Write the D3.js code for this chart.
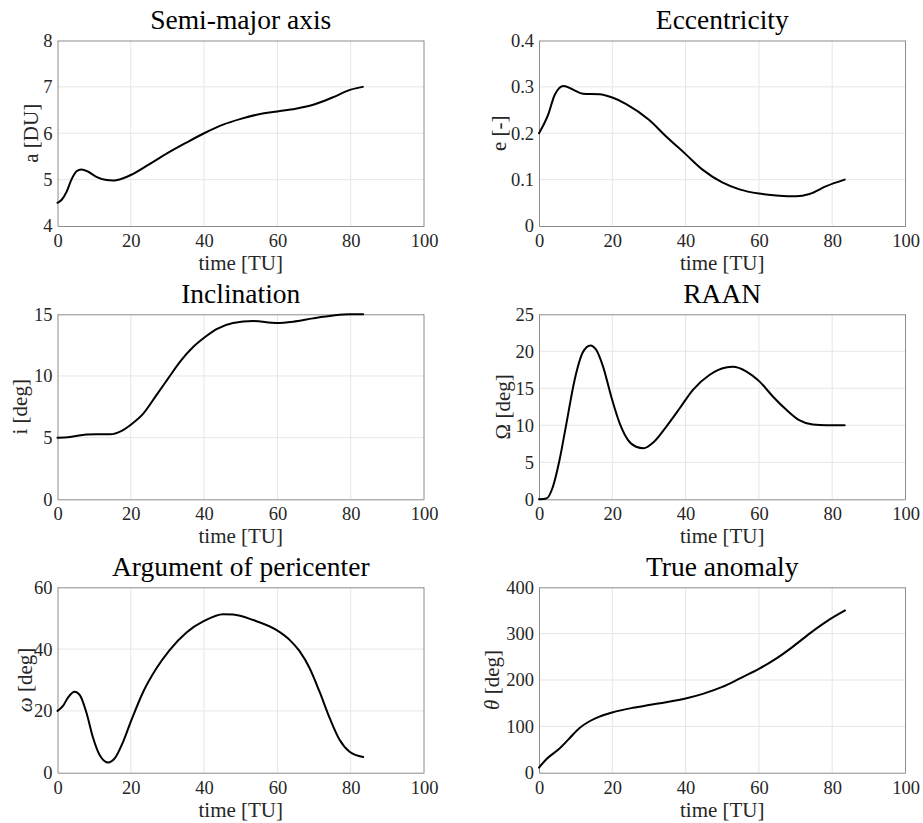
<!DOCTYPE html>
<html>
<head>
<meta charset="utf-8">
<script src="https://cdn.jsdelivr.net/npm/d3@7"></script>
<style>
  html, body { margin: 0; padding: 0; background: #fff; }
  svg { display: block; }
</style>
</head>
<body>
<svg id="chart" width="923" height="823"></svg>
<script>
// ---------------- data ----------------
const xTicks = [0, 20, 40, 60, 80, 100];

const tA = [0, 1.1, 2.5, 3.8, 5.2, 6.5, 8.4, 10.6, 13.4, 15.2, 17.9, 20, 25, 30, 35, 40, 45, 50, 55, 60, 65, 70, 75, 80, 83.3];
const aVals = [4.5, 4.56, 4.74, 5.0, 5.18, 5.22, 5.17, 5.06, 4.99, 4.98, 5.03, 5.10, 5.33, 5.57, 5.79, 6.0, 6.18, 6.31, 6.41, 6.47, 6.53, 6.62, 6.77, 6.94, 7.0];
const aTicks = [4, 5, 6, 7, 8];

const tE = [0, 2.5, 4.3, 6.7, 9.3, 12, 16.5, 20, 23.8, 30, 34.7, 40, 44.7, 50, 54.7, 60, 64.7, 70.2, 73.8, 78.4, 83.4];
const eVals = [0.2, 0.240, 0.283, 0.302, 0.294, 0.285, 0.284, 0.277, 0.263, 0.229, 0.193, 0.155, 0.121, 0.094, 0.079, 0.070, 0.066, 0.064, 0.069, 0.086, 0.1];
const eTicks = [0, 0.1, 0.2, 0.3, 0.4];

const tI = [0, 3.4, 7.9, 10.6, 14.3, 17.5, 20, 23.4, 27, 30.2, 33.4, 37, 40, 43.4, 47.9, 53.4, 59.7, 64.3, 69.7, 75.2, 79.7, 83.4];
const iVals = [5.0, 5.06, 5.26, 5.28, 5.27, 5.55, 6.05, 6.95, 8.45, 9.8, 11.15, 12.35, 13.1, 13.8, 14.3, 14.45, 14.3, 14.4, 14.67, 14.9, 15.0, 15.0];
const iTicks = [0, 5, 10, 15];

const tO = [0, 2, 3.8, 5.6, 7.5, 9.7, 12, 14, 15.6, 17.5, 19.7, 22, 24.3, 26.5, 28.6, 31, 34.7, 38.4, 42, 46.5, 51, 52.9, 56.5, 60.2, 63.8, 67.5, 71, 74.7, 78.4, 83.4];
const oVals = [0, 0.1, 1.7, 5.3, 10.3, 16.1, 19.9, 20.8, 20.2, 17.9, 13.9, 10.3, 8.0, 7.1, 6.9, 7.6, 9.8, 12.3, 14.8, 16.8, 17.8, 17.9, 17.3, 15.9, 13.9, 12.1, 10.7, 10.1, 10.0, 10.0];
const oTicks = [0, 5, 10, 15, 20, 25];

const tW = [0, 1.5, 2.9, 4.7, 6.1, 7.9, 9.7, 11.5, 13.8, 15.6, 17.9, 20, 23.4, 27, 30.6, 35.2, 40, 45.2, 47.9, 53.4, 59.7, 63.4, 66, 68.8, 71.5, 74.3, 77, 79.7, 83.4];
const wVals = [20, 21.6, 24.4, 26.2, 25.1, 19.4, 11.3, 5.7, 3.3, 4.6, 10.0, 16.5, 26.2, 33.8, 39.7, 45.4, 49.1, 51.3, 51.2, 49.4, 46.2, 42.9, 39.4, 33.8, 26.2, 17.6, 10.6, 6.8, 5.1];
const wTicks = [0, 20, 40, 60];

const tT = [0, 2, 5.6, 8.4, 11, 13.8, 16.5, 20, 25.6, 30, 34.7, 40, 44.7, 50, 54.7, 60, 64.7, 69.3, 73.8, 78.4, 83.5];
const thVals = [11, 29, 52, 75, 96, 111, 121, 130, 140, 146, 152, 160, 170, 185, 203, 224, 246, 272, 300, 326, 350];
const thTicks = [0, 100, 200, 300, 400];

const titles = ["Semi-major axis", "Eccentricity", "Inclination", "RAAN", "Argument of pericenter", "True anomaly"];
const yLabels = ["a [DU]", "e [-]", "i [deg]", "\u03A9 [deg]", "\u03C9 [deg]", "\u03B8 [deg]"];
const xLabel = "time [TU]";

// ---------------- layout ----------------
const FONT = "'Liberation Serif', 'DejaVu Serif', serif";
const panels = [
  { t: tA, v: aVals, ticks: aTicks, x0: 57.5, y0: 40.5, y1: 226, lab: 31, fmt: d => d },
  { t: tE, v: eVals, ticks: eTicks, x0: 539, y0: 40.5, y1: 226, lab: 499, fmt: d => d === 0 ? "0" : d.toFixed(1) },
  { t: tI, v: iVals, ticks: iTicks, x0: 57.5, y0: 314.3, y1: 499.3, lab: 20, fmt: d => d },
  { t: tO, v: oVals, ticks: oTicks, x0: 539, y0: 314.3, y1: 499.3, lab: 503, fmt: d => d },
  { t: tW, v: wVals, ticks: wTicks, x0: 57.5, y0: 587.3, y1: 772.7, lab: 25, fmt: d => d, italic: true },
  { t: tT, v: thVals, ticks: thTicks, x0: 539, y0: 587.3, y1: 772.7, lab: 492, fmt: d => d, italic: true }
];
const plotW = 366.5;

const svg = d3.select("#chart");
const textColor = "#262626";

panels.forEach((p, k) => {
  const x = d3.scaleLinear().domain([0, 100]).range([p.x0, p.x0 + plotW]);
  const y = d3.scaleLinear().domain([p.ticks[0], p.ticks[p.ticks.length - 1]]).range([p.y1, p.y0]);
  const g = svg.append("g");

  // grid
  g.append("g").selectAll("line").data(xTicks.slice(1, -1)).join("line")
    .attr("x1", d => x(d)).attr("x2", d => x(d))
    .attr("y1", p.y0).attr("y2", p.y1)
    .attr("stroke", "#e6e6e6").attr("stroke-width", 1);
  g.append("g").selectAll("line").data(p.ticks.slice(1, -1)).join("line")
    .attr("x1", p.x0).attr("x2", p.x0 + plotW)
    .attr("y1", d => y(d)).attr("y2", d => y(d))
    .attr("stroke", "#e6e6e6").attr("stroke-width", 1);

  // axes (box)
  const xAxis = d3.axisBottom(x).tickValues(xTicks).tickSize(0).tickPadding(8);
  const gx = g.append("g").attr("transform", `translate(0,${p.y1})`).call(xAxis);
  gx.attr("font-family", null).attr("font-size", null);
  gx.select(".domain").attr("stroke", "#8c8c8c");
  gx.selectAll("text").style("font-size", "18.5px").style("fill", textColor)
    .style("font-family", FONT);

  const yAxis = d3.axisLeft(y).tickValues(p.ticks).tickSize(0).tickPadding(5).tickFormat(p.fmt);
  const gy = g.append("g").attr("transform", `translate(${p.x0},0)`).call(yAxis);
  gy.attr("font-family", null).attr("font-size", null);
  gy.select(".domain").attr("stroke", "#8c8c8c");
  gy.selectAll("text").style("font-size", "18.5px").style("fill", textColor)
    .style("font-family", FONT);

  g.append("line").attr("x1", p.x0).attr("x2", p.x0 + plotW).attr("y1", p.y0 + 0.5).attr("y2", p.y0 + 0.5)
    .attr("stroke", "#8c8c8c");
  g.append("line").attr("x1", p.x0 + plotW).attr("x2", p.x0 + plotW).attr("y1", p.y0).attr("y2", p.y1)
    .attr("stroke", "#8c8c8c");

  // curve
  const pts = p.t.map((tt, i) => [tt, p.v[i]]);
  g.append("path").datum(pts)
    .attr("fill", "none").attr("stroke", "#000").attr("stroke-width", 2)
    .attr("stroke-linejoin", "round").attr("stroke-linecap", "round")
    .attr("d", d3.line().x(d => x(d[0])).y(d => y(d[1])).curve(d3.curveMonotoneX));

  // title
  g.append("text").attr("x", p.x0 + plotW / 2).attr("y", p.y0 - 11.5)
    .attr("text-anchor", "middle")
    .style("font-family", FONT).style("font-size", "27.5px").style("fill", "#000")
    .text(titles[k]);

  // x label
  g.append("text").attr("x", p.x0 + plotW / 2).attr("y", p.y1 + 44)
    .attr("text-anchor", "middle")
    .style("font-family", FONT).style("font-size", "21px").style("fill", textColor)
    .text(xLabel);

  // y label
  const yl = g.append("text")
    .attr("transform", `translate(${p.lab},${(p.y0 + p.y1) / 2}) rotate(-90)`)
    .attr("dy", "0.35em")
    .attr("text-anchor", "middle")
    .style("font-family", FONT).style("font-size", "21px").style("fill", textColor);
  const parts = yLabels[k].split(" ");
  yl.append("tspan").style("font-style", p.italic ? "italic" : "normal").text(parts[0]);
  yl.append("tspan").text(" " + parts.slice(1).join(" "));
});
</script>
</body>
</html>
